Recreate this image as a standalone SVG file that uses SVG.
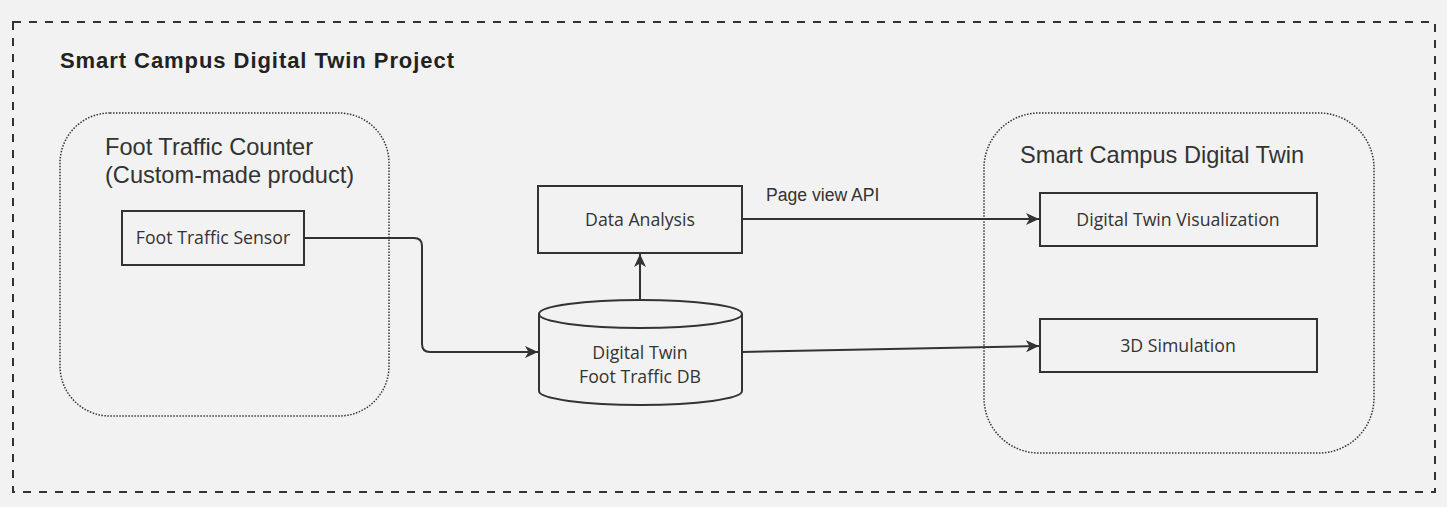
<svg xmlns="http://www.w3.org/2000/svg" width="1447" height="507" viewBox="0 0 1447 507">
<defs>
<style>
.bg{fill:#f2f2f2}
.outer{fill:none;stroke:#333;stroke-width:2;stroke-dasharray:8 8}
.cluster{fill:none;stroke:#333;stroke-width:1.5;stroke-dasharray:1.5 1.5}
.box{fill:#f2f2f2;stroke:#333;stroke-width:2}
.edge{fill:none;stroke:#333;stroke-width:2}
.title{font-family:"Liberation Sans",Arial,sans-serif;font-weight:bold;font-size:22px;fill:#222}
.ctitle{font-family:"Liberation Sans",Arial,sans-serif;font-size:23.6px;fill:#333}
.lbl{font-family:"Open Sans","Noto Sans",sans-serif;font-size:17.7px;fill:#333;text-anchor:middle}
.elbl{font-family:"Liberation Sans",Arial,sans-serif;font-size:17.6px;fill:#333}
</style>
<marker id="arr" viewBox="0 0 13 12" refX="13" refY="6" markerWidth="13" markerHeight="12" markerUnits="userSpaceOnUse" orient="auto">
<path d="M0,0 L13,6 L0,12 L3.5,6 z" fill="#333"/>
</marker>
</defs>
<rect class="bg" x="0" y="0" width="1447" height="507"/>
<g id="project">
<rect class="outer" x="13" y="22" width="1422" height="470"/>
<text class="title" x="60" y="68" textLength="394" lengthAdjust="spacing">Smart Campus Digital Twin Project</text>
</g>
<g id="cluster-counter">
<rect class="cluster" x="60" y="113" width="329" height="303" rx="50" ry="50"/>
<text class="ctitle" x="105" y="155">Foot Traffic Counter</text>
<text class="ctitle" x="105" y="183">(Custom-made product)</text>
</g>
<g id="cluster-twin">
<rect class="cluster" x="984" y="113" width="390" height="340" rx="55" ry="55"/>
<text class="ctitle" x="1020" y="163">Smart Campus Digital Twin</text>
</g>
<g id="connectors">
<path class="edge" d="M304,238 H414 Q422,238 422,246 V344 Q422,352 430,352 H538" marker-end="url(#arr)"/>
<path class="edge" d="M640,300 V254" marker-end="url(#arr)"/>
<path class="edge" d="M742,219 H1039" marker-end="url(#arr)"/>
<text class="elbl" x="766" y="201">Page view API</text>
<path class="edge" d="M742,352 L1039,346" marker-end="url(#arr)"/>
</g>
<g id="sensor">
<rect class="box" x="122" y="211" width="182" height="54"/>
<text class="lbl" x="213" y="244">Foot Traffic Sensor</text>
</g>
<g id="analysis">
<rect class="box" x="538" y="186" width="204" height="67"/>
<text class="lbl" x="640" y="226">Data Analysis</text>
</g>
<g id="db">
<path class="box" d="M539,314 A101.5,14 0 0 1 742,314 V391 A101.5,14 0 0 1 539,391 Z"/>
<path class="edge" d="M539,314 A101.5,14 0 0 0 742,314"/>
<text class="lbl" x="640" y="359">Digital Twin</text>
<text class="lbl" x="640" y="383">Foot Traffic DB</text>
</g>
<g id="visualization">
<rect class="box" x="1040" y="193" width="277" height="53"/>
<text class="lbl" x="1178" y="226">Digital Twin Visualization</text>
</g>
<g id="simulation">
<rect class="box" x="1040" y="319" width="277" height="53"/>
<text class="lbl" x="1178" y="352">3D Simulation</text>
</g>
</svg>
